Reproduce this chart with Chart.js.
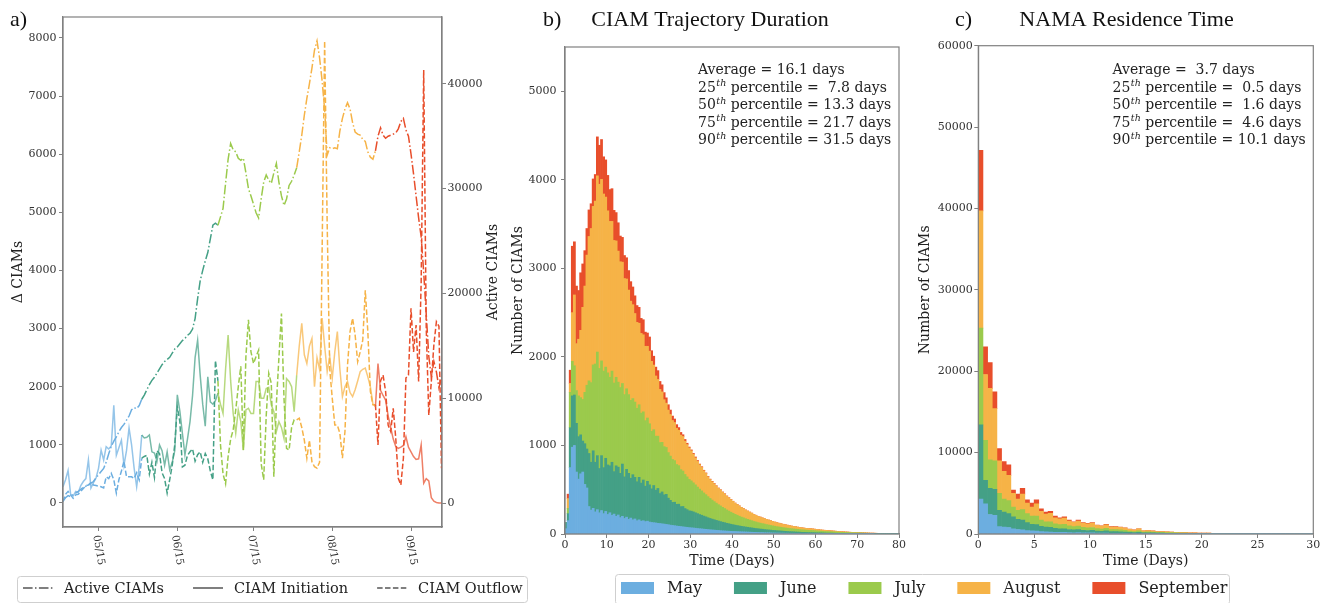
<!DOCTYPE html>
<html>
<head>
<meta charset="utf-8">
<script src="https://cdn.jsdelivr.net/npm/chart.js@4/dist/chart.umd.min.js"></script>
<style>
  html, body { margin: 0; padding: 0; background: #ffffff; }
  #wrap { position: relative; width: 1330px; height: 603px; overflow: hidden; background: #ffffff; }
  #wrap canvas { position: absolute; left: 0; top: 0; }
</style>
</head>
<body>
<div id="wrap">
  <canvas id="panelA" width="1330" height="603"></canvas>
  <canvas id="panelB" width="1330" height="603"></canvas>
  <canvas id="panelC" width="1330" height="603"></canvas>
</div>
<script>
// ---------------------------------------------------------------------------
// Months and their colours
// ---------------------------------------------------------------------------
const monthNames = ['May', 'June', 'July', 'August', 'September'];
const monthStartDay = [0, 31, 61, 92, 123];          // day index of the 1st of each month (day 0 = 1 May)
const monthColors = ['#6caee0', '#44a086', '#9bca4c', '#f6b347', '#e84e2b'];

// ---------------------------------------------------------------------------
// Panel a: daily counts, day 0 = 1 May ... day 149 = 27 Sep
// ---------------------------------------------------------------------------
const seriesNames = ['Active CIAMs', 'CIAM Initiation', 'CIAM Outflow'];

const activeCIAMs = [
  200, 500, 700, 600, 800, 950, 1100, 1300, 1500, 1600, 1700, 1900, 2050, 2400, 2700, 3000,
  3300, 3900, 4700, 5400, 5900, 6300, 6800, 7200, 7500, 7900, 8300, 8900, 9100, 9000, 9300,
  9900, 10300, 10800, 11300, 11700, 12000, 12400, 12800, 13200, 13500, 13700, 13900, 14300, 14700, 14900,
  15200, 15500, 15700, 16000, 16200, 16600, 17600, 19500, 21200, 22200, 23100, 23900, 25200, 26500, 26700,
  26500, 27300, 28100, 30500, 32800, 34300, 33700, 33500, 32900, 32700, 32900, 31500, 30000, 29300, 28500, 27700,
  27200, 29000, 30600, 31300, 30800, 30500, 31500, 32400, 30600, 29300, 28400, 29000, 30300, 30700, 31300,
  32000, 33500, 35100, 37000, 38600, 40000, 41500, 43200, 44100, 42500, 40300, 37500, 33200, 33900, 33800, 33900,
  33800, 35500, 36700, 37600, 38200, 37600, 36300, 35400, 35200, 35100, 34700, 34500, 33500, 33000, 32800,
  33600, 35000, 35800, 35100, 34800, 35000, 35100, 35200, 35300, 35700, 36400, 36700, 35600, 35000,
  33300, 31400, 29300, 27200, 25400, 22000, 18000, 14000, 12000, 13500, 12500, 11000, 12000
];

const ciamInitiation = [
  280, 400, 560, 150, 120, 200, 180, 300, 370, 420, 740, 260, 350, 430, 600, 910,
  740, 970, 930, 980, 1680, 820, 950, 1080, 650, 900, 1290, 1000, 600, 280, 620,
  1170, 1120, 1130, 1170, 880, 860, 720, 1000, 900, 650, 880, 570, 700, 900, 1860,
  1580, 1200, 830, 1100, 1400, 1850, 2500, 2800, 2200, 1700, 1320, 2170, 1740, 1700, 1760,
  1890, 1700, 1540, 2300, 2890, 2100, 1540, 1200, 1600, 1400, 910, 1600, 1630, 1540, 1540, 2090,
  2090, 1800, 1800, 1970, 1990, 1690, 1570, 1230, 1400, 1300, 1110, 2140, 2090, 2000, 1570,
  2200, 2700, 3090, 2550, 2400, 2700, 2830, 2000, 2500, 2300, 3180, 2700, 2260, 2520, 2150, 2600,
  2950, 2300, 1830, 2000, 2090, 1900, 1830, 1950, 2100, 2260, 2300, 2320, 2170, 2000, 1700,
  1660, 2400, 1940, 1850, 1770, 1500, 1300, 1100, 970, 940, 960, 990, 1140, 960,
  880, 800, 750, 760, 1000, 340, 420, 380, 90, 30, 10, 0, 0
];

const ciamOutflow = [
  20, 150, 200, 140, 80, 140, 150, 200, 250, 300, 310, 350, 310, 300, 290, 280,
  260, 450, 420, 510, 400, 170, 400, 550, 720, 450, 450, 450, 420, 520, 400,
  770, 800, 820, 500, 700, 440, 900, 850, 520, 420, 170, 400, 650, 1000, 1650,
  1400, 620, 650, 820, 880, 930, 720, 830, 880, 700, 850, 760, 550, 400, 2450,
  2100, 1000, 500, 330, 800, 1100, 1260, 1600, 2000, 2350, 910, 2520, 3150, 2600, 2400, 2520,
  2630, 680, 400, 1500, 2230, 2060, 450, 1710, 2500, 3260, 1800, 940, 910, 1300, 1430,
  1430, 1460, 1300, 1080, 770, 1080, 710, 625, 600, 700, 4300, 7950, 4800, 2300, 1800, 1340,
  1340, 1200, 770, 1230, 2370, 2950, 3180, 2890, 2430, 2600, 2800, 3660, 2950, 1920, 1690,
  1690, 1000, 2100, 2200, 1920, 1340, 1230, 1630, 1110, 425, 310, 770, 2150, 2200,
  3350, 2600, 3060, 2090, 3800, 7450, 3000, 1510, 2090, 2720, 3120, 3040, 600
];

const dateTickDays = [14, 45, 75, 106, 137];
const dateTickLabels = ['05/15', '06/15', '07/15', '08/15', '09/15'];
const deltaTicks = [0, 1000, 2000, 3000, 4000, 5000, 6000, 7000, 8000];
const activeTicks = [0, 10000, 20000, 30000, 40000];

// ---------------------------------------------------------------------------
// Panel b: CIAM trajectory duration histogram, 0.5-day bins from 0 to 80 days
// ---------------------------------------------------------------------------
const durBinWidth = 0.5;
const durMay = [
  60, 150, 750, 980, 1000, 700, 620, 680, 700, 560,
  520, 310, 270, 290, 250, 275, 240, 265, 230, 255,
  220, 240, 210, 225, 200, 215, 185, 200, 175, 190,
  165, 180, 160, 170, 150, 160, 145, 150, 140, 145,
  135, 130, 128, 125, 120, 118, 115, 112, 108, 105,
  100, 97, 94, 90, 87, 84, 81, 78, 75, 72,
  70, 68, 65, 62, 60, 58, 55, 53, 50, 48,
  46, 44, 42, 40, 38, 36, 35, 33, 32, 30,
  29, 28, 27, 26, 25, 24, 23, 22, 21, 20,
  19, 18, 17, 16, 16, 15, 14, 14, 13, 12,
  12, 11, 11, 10, 10, 9, 9, 8, 8, 8,
  7, 7, 7, 6, 6, 6, 5, 5, 5, 5,
  4, 4, 4, 4, 3, 3, 3, 3, 3, 2,
  2, 2, 2, 2, 2, 2, 1, 1, 1, 1,
  1, 1, 1, 1, 1, 1, 1, 1, 0, 0,
  0, 0, 0, 0, 0, 0, 0, 0, 0, 0
];
const durJun = [
  70, 80, 450, 580, 570, 550, 480, 440, 350, 460,
  440, 600, 540, 650, 560, 610, 500, 620, 520, 600,
  560, 530, 600, 480, 570, 540, 500, 590, 470, 540,
  520, 450, 510, 470, 440, 480, 430, 460, 400, 450,
  420, 380, 420, 370, 395, 340, 360, 330, 340, 300,
  280, 260, 265, 245, 250, 225, 230, 210, 200, 190,
  188, 182, 175, 168, 160, 154, 147, 141, 134, 128,
  122, 117, 112, 107, 102, 97, 93, 88, 84, 80,
  76, 72, 69, 65, 62, 59, 56, 54, 51, 49,
  46, 44, 42, 40, 38, 36, 34, 32, 31, 29,
  28, 26, 25, 24, 22, 21, 20, 19, 18, 17,
  16, 15, 14, 13, 13, 12, 12, 11, 11, 10,
  10, 9, 9, 8, 8, 7, 7, 7, 6, 6,
  6, 5, 5, 5, 4, 4, 4, 4, 3, 3,
  3, 3, 3, 2, 2, 2, 2, 2, 2, 2,
  1, 1, 1, 1, 1, 1, 1, 1, 1, 1
];
const durJul = [
  0, 60, 400, 390, 330, 370, 460, 420, 470, 580,
  720, 820, 900, 970, 1110, 1170, 1130, 1070, 1090, 1030,
  1040, 1000, 1030, 1000, 1000, 960, 970, 910, 930, 910,
  890, 880, 860, 850, 830, 820, 790, 770, 740, 715,
  690, 650, 630, 610, 590, 575, 560, 545, 530, 515,
  500, 485, 470, 450, 435, 418, 400, 385, 370, 355,
  342, 328, 315, 300, 287, 275, 262, 250, 238, 226,
  215, 205, 195, 185, 177, 168, 160, 151, 143, 136,
  129, 122, 116, 110, 104, 100, 94, 90, 86, 82,
  77, 74, 70, 67, 64, 62, 59, 56, 53, 51,
  48, 46, 44, 42, 40, 39, 37, 36, 34, 33,
  32, 31, 29, 28, 27, 26, 25, 25, 24, 23,
  22, 21, 20, 19, 18, 18, 17, 16, 15, 15,
  14, 13, 12, 12, 11, 11, 10, 9, 9, 9,
  8, 8, 7, 7, 6, 6, 5, 5, 5, 4,
  4, 4, 3, 3, 3, 3, 2, 2, 1, 1
];
const durAug = [
  0, 110, 100, 550, 800, 530, 640, 760, 1040, 1200,
  1470, 1630, 1740, 1790, 1840, 1990, 2080, 2050, 2000, 1920,
  1830, 1760, 1690, 1610, 1540, 1480, 1420, 1370, 1310, 1240,
  1180, 1120, 1060, 1000, 970, 920, 900, 870, 840, 810,
  820, 790, 730, 680, 640, 600, 570, 530, 500, 480,
  470, 440, 430, 410, 400, 390, 390, 375, 365, 355,
  340, 322, 305, 290, 275, 265, 250, 240, 223, 213,
  207, 200, 192, 184, 180, 171, 164, 155, 149, 142,
  134, 126, 121, 115, 108, 104, 98, 93, 89, 84,
  79, 75, 70, 68, 64, 62, 59, 56, 53, 50,
  47, 45, 42, 40, 38, 36, 34, 32, 30, 28,
  27, 25, 24, 23, 21, 20, 20, 19, 18, 17,
  16, 15, 13, 13, 13, 12, 11, 10, 10, 9,
  8, 8, 7, 6, 6, 5, 5, 5, 5, 4,
  4, 3, 3, 3, 3, 2, 2, 2, 2, 2,
  2, 2, 2, 2, 1, 1, 1, 1, 1, 1
];
const durSep = [
  0, 50, 150, 750, 600, 650, 550, 650, 490, 400,
  300, 300, 280, 310, 300, 440, 440, 450, 420, 420,
  400, 360, 370, 340, 320, 320, 290, 280, 260, 240,
  220, 220, 200, 200, 190, 180, 170, 170, 160, 150,
  160, 120, 100, 100, 100, 90, 80, 80, 60, 60,
  50, 50, 40, 40, 30, 30, 20, 20, 15, 10,
  10, 10, 10, 10, 8, 8, 6, 6, 5, 5,
  5, 4, 4, 4, 3, 3, 3, 3, 2, 2,
  2, 2, 2, 2, 1, 1, 1, 1, 1, 1,
  1, 1, 1, 1, 0, 0, 0, 0, 0, 0,
  0, 0, 0, 0, 0, 0, 0, 0, 0, 0,
  0, 0, 0, 0, 0, 0, 0, 0, 0, 0,
  0, 0, 0, 0, 0, 0, 0, 0, 0, 0,
  0, 0, 0, 0, 0, 0, 0, 0, 0, 0,
  0, 0, 0, 0, 0, 0, 0, 0, 0, 0,
  0, 0, 0, 0, 0, 0, 0, 0, 0, 0
];
const durDayTicks = [0, 10, 20, 30, 40, 50, 60, 70, 80];
const durCountTicks = [0, 1000, 2000, 3000, 4000, 5000];
const durAverage = 16.1;
const durPercentiles = ['25', '50', '75', '90'];
const durPercentileDays = [7.8, 13.3, 21.7, 31.5];

// ---------------------------------------------------------------------------
// Panel c: NAMA residence time histogram, 10-hour bins from 0 to 30 days
// ---------------------------------------------------------------------------
const resBinWidth = 5 / 12;
const resMay = [
  4300, 3700, 2400, 2300, 900, 850, 800, 650, 550, 500, 420, 380,
  350, 300, 260, 250, 220, 200, 190, 170, 150, 160, 140, 130,
  130, 110, 100, 110, 90, 90, 80, 70, 60, 50, 60, 40,
  40, 40, 30, 30, 25, 25, 20, 20, 18, 15, 14, 12,
  12, 10, 9, 8, 8, 7, 6, 6, 5, 5, 4, 4,
  3, 3, 3, 2, 2, 2, 2, 1, 1, 1, 1, 1
];
const resJun = [
  9100, 2900, 3200, 3200, 2000, 1850, 1700, 1450, 1250, 1200, 980, 820,
  800, 650, 590, 570, 480, 450, 460, 380, 350, 380, 320, 300,
  310, 260, 240, 280, 210, 200, 200, 180, 140, 120, 150, 100,
  100, 90, 80, 75, 65, 60, 50, 45, 37, 35, 31, 28,
  26, 23, 21, 19, 17, 15, 14, 12, 11, 10, 9, 8,
  8, 7, 6, 6, 5, 4, 4, 4, 4, 3, 3, 3
];
const resJul = [
  11900, 4900, 3500, 3500, 2100, 1600, 1600, 1200, 1100, 1300, 1100, 1000,
  1050, 750, 650, 680, 550, 500, 550, 450, 400, 440, 360, 330,
  360, 290, 270, 310, 240, 240, 230, 200, 160, 130, 170, 110,
  120, 110, 80, 85, 75, 75, 60, 55, 50, 45, 40, 35,
  32, 29, 27, 25, 23, 20, 18, 17, 15, 14, 13, 11,
  10, 9, 8, 7, 7, 6, 5, 5, 4, 4, 4, 3
];
const resAug = [
  14400, 8100, 8800, 6400, 4000, 3400, 3100, 1700, 1400, 1900, 1300, 1100,
  1500, 1100, 950, 1050, 750, 700, 750, 580, 520, 620, 510, 480,
  530, 390, 350, 440, 320, 330, 300, 270, 215, 180, 240, 135,
  145, 130, 105, 105, 90, 85, 65, 65, 60, 50, 50, 40,
  38, 36, 30, 26, 25, 22, 20, 18, 17, 15, 13, 12,
  11, 10, 9, 8, 7, 7, 6, 5, 5, 5, 4, 4
];
const resSep = [
  7450, 3400, 3150, 2080, 1500, 1200, 1300, 400, 600, 700, 400, 500,
  500, 300, 250, 250, 200, 150, 150, 120, 80, 100, 70, 60,
  70, 50, 40, 60, 40, 40, 40, 30, 25, 20, 30, 15,
  15, 10, 5, 5, 5, 5, 5, 5, 5, 5, 5, 5,
  2, 2, 3, 2, 2, 2, 2, 2, 2, 1, 1, 1,
  1, 1, 1, 1, 1, 1, 1, 1, 1, 1, 1, 1
];
const resDayTicks = [0, 5, 10, 15, 20, 25, 30];
const resCountTicks = [0, 10000, 20000, 30000, 40000, 50000, 60000];
const resAverage = 3.7;
const resPercentiles = ['25', '50', '75', '90'];
const resPercentileDays = [0.5, 1.6, 4.6, 10.1];

// ---------------------------------------------------------------------------
// Shared styling helpers
// ---------------------------------------------------------------------------
const SERIF = '"DejaVu Serif", serif';
const TITLE_SERIF = '"Liberation Serif", "Times New Roman", serif';
const TEXT = '#222222';
const TICK_TEXT = '#333333';
const SPINE = '#808080';

Chart.defaults.font.family = SERIF;
Chart.defaults.color = TICK_TEXT;

function monthIndexOf(day) {
  let m = 0;
  for (let i = 0; i < monthStartDay.length; i++) if (day >= monthStartDay[i]) m = i;
  return m;
}
function rgba(hex, a) {
  const n = parseInt(hex.slice(1), 16);
  return `rgba(${(n >> 16) & 255},${(n >> 8) & 255},${n & 255},${a})`;
}
const toPoints = arr => arr.map((v, i) => ({ x: i, y: v }));
const toBins = (arr, w) => arr.map((v, i) => ({ x: (i + 0.5) * w, y: v }));
const fixedTicks = list => scale => { scale.ticks = list.map(v => ({ value: v })); };
const plainNumber = v => String(v);

function gridStyle() {
  return { display: true, drawOnChartArea: false, drawTicks: true, tickLength: 4, tickColor: SPINE, tickWidth: 1 };
}
function borderStyle() {
  return { display: true, color: SPINE, width: 1.2 };
}
function tickFont() {
  return { family: SERIF, size: 11 };
}

function drawFrame(ctx, ca) {
  ctx.save();
  ctx.strokeStyle = SPINE;
  ctx.lineWidth = 1.2;
  ctx.strokeRect(ca.left, ca.top, ca.right - ca.left, ca.bottom - ca.top);
  ctx.restore();
}

function drawPanelTitle(ctx, letter, letterX, title, titleCenterX) {
  ctx.save();
  ctx.fillStyle = '#111111';
  ctx.font = '22px ' + TITLE_SERIF;
  ctx.textBaseline = 'alphabetic';
  ctx.textAlign = 'left';
  ctx.fillText(letter, letterX, 26);
  if (title) {
    ctx.textAlign = 'center';
    ctx.fillText(title, titleCenterX, 26);
  }
  ctx.restore();
}

function fmtDays(v) {
  return v.toFixed(1).padStart(4, ' ');
}

function drawStats(ctx, x, y, lineGap, avg, pctNames, pctDays) {
  ctx.save();
  ctx.fillStyle = TEXT;
  ctx.textAlign = 'left';
  ctx.textBaseline = 'alphabetic';
  const body = '14px ' + SERIF;
  const sup = 'italic 9.5px ' + SERIF;
  ctx.font = body;
  ctx.fillText('Average = ' + fmtDays(avg) + ' days', x, y);
  pctNames.forEach((p, i) => {
    const yy = y + lineGap * (i + 1);
    let cx = x;
    ctx.font = body;
    ctx.fillText(p, cx, yy);
    cx += ctx.measureText(p).width;
    ctx.font = sup;
    ctx.fillText('th', cx + 0.5, yy - 5.5);
    cx += ctx.measureText('th').width + 0.5;
    ctx.font = body;
    ctx.fillText(' percentile = ' + fmtDays(pctDays[i]) + ' days', cx, yy);
  });
  ctx.restore();
}

function roundRectPath(ctx, x, y, w, h, r) {
  ctx.beginPath();
  ctx.moveTo(x + r, y);
  ctx.lineTo(x + w - r, y);
  ctx.arcTo(x + w, y, x + w, y + r, r);
  ctx.lineTo(x + w, y + h - r);
  ctx.arcTo(x + w, y + h, x + w - r, y + h, r);
  ctx.lineTo(x + r, y + h);
  ctx.arcTo(x, y + h, x, y + h - r, r);
  ctx.lineTo(x, y + r);
  ctx.arcTo(x, y, x + r, y, r);
  ctx.closePath();
}

const DASH_DOT = [9.6, 2.4, 1.5, 2.4];
const DASHED = [5.5, 2.4];

// ---------------------------------------------------------------------------
// Panel a
// ---------------------------------------------------------------------------
const panelAExtras = {
  id: 'panelAExtras',
  afterDraw(chart) {
    const { ctx, chartArea: ca, scales } = chart;
    drawFrame(ctx, ca);

    // rotated date labels under the x axis
    ctx.save();
    ctx.fillStyle = TICK_TEXT;
    ctx.font = '10.5px ' + SERIF;
    const ang = 80 * Math.PI / 180;
    dateTickDays.forEach((d, i) => {
      const label = dateTickLabels[i];
      const x = scales.x.getPixelForValue(d);
      const w = ctx.measureText(label).width;
      const h = 8;
      const boxH = w * Math.sin(ang) + h * Math.cos(ang);
      ctx.save();
      ctx.translate(x, ca.bottom + 4 + 3.5 + boxH / 2);
      ctx.rotate(ang);
      ctx.textAlign = 'center';
      ctx.textBaseline = 'middle';
      ctx.fillText(label, 0, 0);
      ctx.restore();
    });
    ctx.restore();

    // right-hand axis title
    ctx.save();
    ctx.fillStyle = TEXT;
    ctx.font = '14px ' + SERIF;
    ctx.translate(493, (ca.top + ca.bottom) / 2);
    ctx.rotate(-Math.PI / 2);
    ctx.textAlign = 'center';
    ctx.textBaseline = 'middle';
    ctx.fillText(seriesNames[0], 0, 0);
    ctx.restore();

    drawPanelTitle(ctx, 'a)', 10, null, 0);

    // line-style legend
    ctx.save();
    roundRectPath(ctx, 17.5, 576.5, 510, 26, 3);
    ctx.fillStyle = 'rgba(255,255,255,0.85)';
    ctx.fill();
    ctx.strokeStyle = '#cfcfcf';
    ctx.lineWidth = 1;
    ctx.stroke();
    const dashes = [DASH_DOT, [], DASHED];
    let lx = 23;
    const ly = 588;
    ctx.font = '14.5px ' + SERIF;
    seriesNames.forEach((name, i) => {
      ctx.beginPath();
      ctx.setLineDash(dashes[i]);
      ctx.strokeStyle = '#555555';
      ctx.lineWidth = 1.5;
      ctx.moveTo(lx, ly);
      ctx.lineTo(lx + 30, ly);
      ctx.stroke();
      ctx.setLineDash([]);
      ctx.fillStyle = TEXT;
      ctx.textAlign = 'left';
      ctx.textBaseline = 'middle';
      ctx.fillText(name, lx + 41, ly + 1);
      lx += 41 + ctx.measureText(name).width + 29;
    });
    ctx.restore();
  }
};

function monthSegment(alpha) {
  return {
    borderColor: c => rgba(monthColors[monthIndexOf(c.p0.parsed.x)], alpha)
  };
}

new Chart(document.getElementById('panelA'), {
  type: 'line',
  data: {
    datasets: [
      {
        label: seriesNames[0], data: toPoints(activeCIAMs), yAxisID: 'yR',
        borderColor: monthColors[0], borderWidth: 1.5, borderDash: DASH_DOT,
        segment: monthSegment(1), pointRadius: 0, tension: 0, fill: false
      },
      {
        label: seriesNames[1], data: toPoints(ciamInitiation), yAxisID: 'yL',
        borderColor: monthColors[0], borderWidth: 1.5, borderDash: [],
        segment: monthSegment(0.72), pointRadius: 0, tension: 0, fill: false
      },
      {
        label: seriesNames[2], data: toPoints(ciamOutflow), yAxisID: 'yL',
        borderColor: monthColors[0], borderWidth: 1.5, borderDash: DASHED,
        segment: monthSegment(1), pointRadius: 0, tension: 0, fill: false
      }
    ]
  },
  options: {
    responsive: false, animation: false, events: [], devicePixelRatio: 1,
    layout: { padding: { left: 0, top: 17, right: 843, bottom: 0 } },
    plugins: { legend: { display: false }, tooltip: { enabled: false } },
    scales: {
      x: {
        type: 'linear', min: 0, max: 149.2, offset: false,
        grid: gridStyle(), border: borderStyle(),
        ticks: { callback: () => '', font: tickFont() },
        afterBuildTicks: fixedTicks(dateTickDays),
        afterFit: s => { s.height = 76; }
      },
      yL: {
        type: 'linear', position: 'left', min: -413, max: 8361,
        grid: gridStyle(), border: borderStyle(),
        ticks: { callback: plainNumber, font: tickFont(), color: TICK_TEXT, padding: 2.5 },
        afterBuildTicks: fixedTicks(deltaTicks),
        title: { display: true, text: 'Δ CIAMs', color: TEXT, font: { family: SERIF, size: 14 }, padding: { top: 9.6, bottom: 0 } },
        afterFit: s => { s.width = 63; }
      },
      yR: {
        type: 'linear', position: 'right', min: -2290, max: 46374,
        grid: gridStyle(), border: borderStyle(),
        ticks: { callback: plainNumber, font: tickFont(), color: TICK_TEXT, padding: 1.5 },
        afterBuildTicks: fixedTicks(activeTicks),
        afterFit: s => { s.width = 45; }
      }
    }
  },
  plugins: [panelAExtras]
});

// ---------------------------------------------------------------------------
// Panel b
// ---------------------------------------------------------------------------
const panelBExtras = {
  id: 'panelBExtras',
  afterDraw(chart) {
    const { ctx, chartArea: ca } = chart;
    drawFrame(ctx, ca);
    drawPanelTitle(ctx, 'b)', 543, 'CIAM Trajectory Duration', 710);
    drawStats(ctx, 698, 74, 17.6, durAverage, durPercentiles, durPercentileDays);

    // month colour legend shared by panels b and c
    ctx.save();
    roundRectPath(ctx, 615.5, 574.5, 614, 30, 3);
    ctx.fillStyle = 'rgba(255,255,255,0.85)';
    ctx.fill();
    ctx.strokeStyle = '#cfcfcf';
    ctx.lineWidth = 1;
    ctx.stroke();
    ctx.font = '16px ' + SERIF;
    let lx = 621;
    const ly = 588;
    monthNames.forEach((name, i) => {
      ctx.fillStyle = monthColors[i];
      ctx.fillRect(lx, ly - 6, 33, 12);
      ctx.fillStyle = TEXT;
      ctx.textAlign = 'left';
      ctx.textBaseline = 'middle';
      ctx.fillText(name, lx + 46, ly + 1);
      lx += 46 + ctx.measureText(name).width + 32;
    });
    ctx.restore();
  }
};

function histDatasets(series, w) {
  return series.map((arr, i) => ({
    label: monthNames[i],
    data: toBins(arr, w),
    backgroundColor: monthColors[i],
    borderWidth: 0,
    barPercentage: 1,
    categoryPercentage: 1,
    stack: 'months'
  }));
}

new Chart(document.getElementById('panelB'), {
  type: 'bar',
  data: { datasets: histDatasets([durMay, durJun, durJul, durAug, durSep], durBinWidth) },
  options: {
    responsive: false, animation: false, events: [], devicePixelRatio: 1,
    layout: { padding: { left: 505, top: 47, right: 431, bottom: 0 } },
    plugins: { legend: { display: false }, tooltip: { enabled: false } },
    scales: {
      x: {
        type: 'linear', min: 0, max: 80, offset: false, stacked: true,
        grid: Object.assign(gridStyle(), { offset: false }), border: borderStyle(),
        ticks: { callback: plainNumber, font: tickFont(), color: TICK_TEXT, padding: 1, maxRotation: 0 },
        afterBuildTicks: fixedTicks(durDayTicks),
        title: { display: true, text: 'Time (Days)', color: TEXT, font: { family: SERIF, size: 14 }, padding: { top: 0, bottom: 33.6 } },
        afterFit: s => { s.height = 69; }
      },
      y: {
        type: 'linear', min: 0, max: 5500, stacked: true,
        grid: gridStyle(), border: borderStyle(),
        ticks: { callback: plainNumber, font: tickFont(), color: TICK_TEXT, padding: 4.5 },
        afterBuildTicks: fixedTicks(durCountTicks),
        title: { display: true, text: 'Number of CIAMs', color: TEXT, font: { family: SERIF, size: 14 }, padding: { top: 4.6, bottom: 0 } },
        afterFit: s => { s.width = 60; }
      }
    }
  },
  plugins: [panelBExtras]
});

// ---------------------------------------------------------------------------
// Panel c
// ---------------------------------------------------------------------------
const panelCExtras = {
  id: 'panelCExtras',
  afterDraw(chart) {
    const { ctx, chartArea: ca } = chart;
    drawFrame(ctx, ca);
    drawPanelTitle(ctx, 'c)', 955, 'NAMA Residence Time', 1126.5);
    drawStats(ctx, 1112.5, 74, 17.6, resAverage, resPercentiles, resPercentileDays);
  }
};

new Chart(document.getElementById('panelC'), {
  type: 'bar',
  data: { datasets: histDatasets([resMay, resJun, resJul, resAug, resSep], resBinWidth) },
  options: {
    responsive: false, animation: false, events: [], devicePixelRatio: 1,
    layout: { padding: { left: 912, top: 45.7, right: 16.7, bottom: 0 } },
    plugins: { legend: { display: false }, tooltip: { enabled: false } },
    scales: {
      x: {
        type: 'linear', min: 0, max: 30, offset: false, stacked: true,
        grid: Object.assign(gridStyle(), { offset: false }), border: borderStyle(),
        ticks: { callback: plainNumber, font: tickFont(), color: TICK_TEXT, padding: 1, maxRotation: 0 },
        afterBuildTicks: fixedTicks(resDayTicks),
        title: { display: true, text: 'Time (Days)', color: TEXT, font: { family: SERIF, size: 14 }, padding: { top: 0, bottom: 33.6 } },
        afterFit: s => { s.height = 69; }
      },
      y: {
        type: 'linear', min: 0, max: 60000, stacked: true,
        grid: gridStyle(), border: borderStyle(),
        ticks: { callback: plainNumber, font: tickFont(), color: TICK_TEXT, padding: 1.5 },
        afterBuildTicks: fixedTicks(resCountTicks),
        title: { display: true, text: 'Number of CIAMs', color: TEXT, font: { family: SERIF, size: 14 }, padding: { top: 4.6, bottom: 0 } },
        afterFit: s => { s.width = 66.3; }
      }
    }
  },
  plugins: [panelCExtras]
});
</script>
</body>
</html>
